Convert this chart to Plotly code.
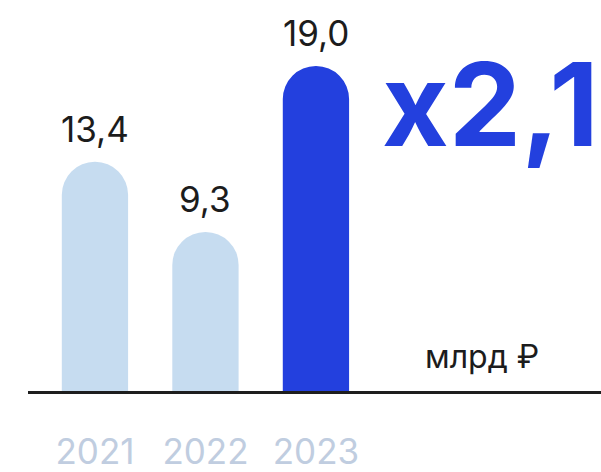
import plotly.graph_objects as go

# Revenue by year, billions of rubles
years = ["2021", "2022", "2023"]
revenue = [13.4, 9.3, 19.0]
value_labels = ["13,4", "9,3", "19,0"]
growth_label = "x2,1"
unit_label = "млрд ₽"

LIGHT = "#C6DCF0"
BLUE = "#2340DE"
TEXT = "#1C1C1C"
YEAR = "#C0CDE0"
FONT = "Inter"

bar_colors = [LIGHT, LIGHT, BLUE]

fig = go.Figure(
    go.Bar(
        x=years,
        y=revenue,
        width=0.6,
        marker=dict(color=bar_colors, line=dict(width=0)),
        hoverinfo="skip",
    )
)

# value labels above each bar (category axis: x given as category index)
for i, (val, txt) in enumerate(zip(revenue, value_labels)):
    fig.add_annotation(
        x=i, y=val, text=txt, showarrow=False,
        xanchor="center", yanchor="bottom", yshift=10,
        font=dict(family=FONT, size=35, color=TEXT),
    )

# growth multiplier, right-aligned to the figure edge
fig.add_annotation(
    xref="paper", yref="paper", x=1, y=1 - 106 / 472,
    text=growth_label, showarrow=False, xanchor="right", yanchor="middle",
    font=dict(family=FONT, size=115, color=BLUE, weight=700),
)

# unit caption
fig.add_annotation(
    xref="paper", yref="paper", x=482 / 601, y=1 - 362 / 472,
    text=unit_label, showarrow=False, xanchor="center", yanchor="middle",
    font=dict(family=FONT, size=32, color=TEXT),
)

fig.update_layout(
    width=601, height=472,
    margin=dict(l=0, r=0, t=0, b=0),
    barcornerradius="50%",
    plot_bgcolor="white", paper_bgcolor="white",
    showlegend=False,
)
fig.update_xaxes(
    type="category",
    domain=[28 / 601, 1], range=[-0.606, 4.58],
    showline=True, linewidth=3, linecolor="#1E1E1E",
    showgrid=False, zeroline=False, ticks="",
    tickfont=dict(family=FONT, size=35, color=YEAR),
    ticklabelstandoff=28,
)
fig.update_yaxes(domain=[75 / 472, 1], range=[0, 22.86], visible=False)

fig.write_html("out.html")
